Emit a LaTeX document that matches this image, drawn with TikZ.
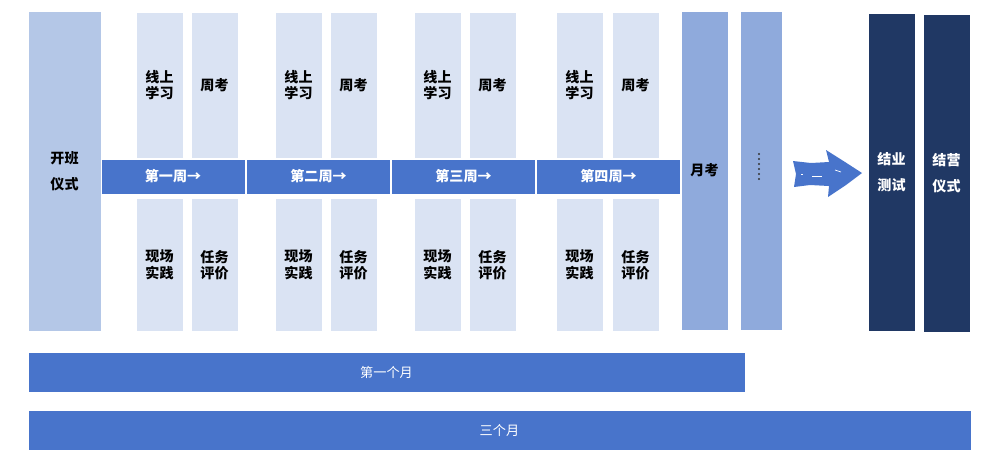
\documentclass[tikz,border=0pt]{standalone}
\usepackage{fontspec}
\setmainfont{Noto Sans CJK SC}

\definecolor{openblue}{HTML}{B4C7E7}
\definecolor{paleblue}{HTML}{DAE3F3}
\definecolor{barblue}{HTML}{4874CB}
\definecolor{examblue}{HTML}{8FAADC}
\definecolor{navy}{HTML}{203864}

\begin{document}
\begin{tikzpicture}[x=0.02cm,y=-0.02cm]

        % Styles
        \tikzset{
          tall/.style={draw=white,line width=0.4pt,inner sep=0pt,
                       minimum width=0.94cm,align=center,
                       font=\fontsize{8}{9.2}\selectfont\bfseries},
          upcol/.style={tall,fill=paleblue,minimum height=2.92cm,anchor=north},
          lowcol/.style={tall,fill=paleblue,minimum height=2.66cm,anchor=north},
          weekbar/.style={draw=white,fill=barblue,text=white,inner sep=0pt,
                          minimum width=2.88cm,minimum height=0.7cm,
                          font=\fontsize{8}{9}\selectfont\bfseries},
          monthbar/.style={draw=white,fill=barblue,text=white,inner sep=0pt,
                           minimum height=0.8cm,
                           font=\fontsize{7.5}{8}\selectfont}
        }

        % frame of the picture
        \useasboundingbox (0,0) rectangle (1000,463);

        % y-coordinates
        \def\ytop{12}     % top of upper columns
        \def\ybar{176.5}  % week bar
        \def\ylow{198}    % top of lower columns

        %-------------------------------
        % Opening
        %-------------------------------
        \node[tall,fill=openblue,minimum width=1.46cm,minimum height=6.4cm,
              font=\fontsize{8}{14.8}\selectfont\bfseries]
              (open) at (64.5,171) {开班\\仪式};

        %-------------------------------
        % Four weeks
        %-------------------------------
        \foreach \w/\xw/\xa/\xb/\name in {
            1/173/159.5/214.5/一,2/318.5/298.5/353.5/二,
            3/463.5/437.5/492.5/三,4/608.5/579.5/635.5/四}{
            \node[weekbar] (week\w) at (\xw,\ybar) {第\name 周→};
            \node[upcol] (online\w) at (\xa,\ytop) {线上\\学习};
            \node[upcol] (quiz\w) at (\xb,\ytop) {周考};
            \node[lowcol] (practice\w) at (\xa,\ylow) {现场\\实践};
            \node[lowcol] (review\w) at (\xb,\ylow) {任务\\评价};
        }

        %-------------------------------
        % Monthly exam and more months
        %-------------------------------
        \node[tall,fill=examblue,minimum height=6.38cm] (exam) at (704.5,170.5) {月考};
        \node[tall,fill=examblue,minimum width=0.84cm,minimum height=6.38cm]
              (more) at (761,170.5) {};
        \foreach \d in {0,1,...,5}
            \fill[black!80] (759,154+\d*5) circle (0.6pt);

        % big hand-drawn arrow
        \fill[barblue] (793,161) -- (811,163) -- (829,162) -- (826,150)
              -- (845,162) -- (862,173) -- (846,185) -- (828,197)
              -- (829,186) -- (810,185) -- (794,187) -- (796,174) -- cycle;
        \draw[white,line width=0.5pt] (812,176) -- (822,176);
        \draw[white,line width=0.5pt] (801,174) -- (803,174);
        \draw[white,line width=0.4pt] (835,170) -- (841,172);

        %-------------------------------
        % Closing
        %-------------------------------
        \node[tall,fill=navy,text=white,minimum height=6.36cm,
              font=\fontsize{8}{14.8}\selectfont\bfseries]
              (final) at (891.5,172) {结业\\测试};
        \node[tall,fill=navy,text=white,minimum height=6.36cm,
              font=\fontsize{8}{14.8}\selectfont\bfseries]
              (close) at (946.5,173) {结营\\仪式};

        %-------------------------------
        % Time bars
        %-------------------------------
        \node[monthbar,minimum width=14.34cm] (month1) at (386.5,372) {第一个月};
        \node[monthbar,minimum width=18.86cm] (months3) at (499.5,430) {三个月};

    \end{tikzpicture}
\end{document}
